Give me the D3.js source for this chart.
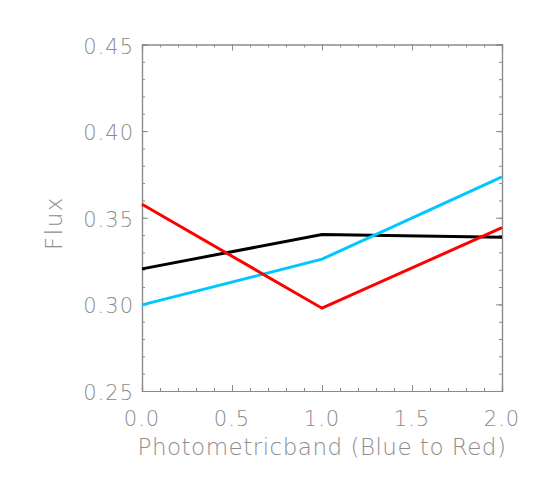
<!DOCTYPE html>
<html><head><meta charset="utf-8">
<script src="https://cdn.jsdelivr.net/npm/d3@7"></script>
<style>
body{margin:0;background:#fff;}
text{font-family:"DejaVu Sans ExtraLight","DejaVu Sans","Liberation Sans",sans-serif;font-weight:200;fill:#8c8c8c;}
</style></head>
<body><svg id="c" width="545" height="482"></svg>
<script>
const bands = [0, 1, 2];
const blackSeries = [0.3205, 0.3403, 0.3388];
const cyanSeries = [0.2997, 0.3261, 0.3736];
const redSeries = [0.3578, 0.2978, 0.3443];
const xTicks = [0.0, 0.5, 1.0, 1.5, 2.0];
const yTicks = [0.25, 0.30, 0.35, 0.40, 0.45];
const xLabel = "Photometricband (Blue to Red)";
const yLabel = "Flux";

const svg = d3.select("#c");
const L = 142, R = 502, T = 44.5, B = 391;
const x = d3.scaleLinear().domain([0, 2]).range([L, R]);
const y = d3.scaleLinear().domain([0.25, 0.45]).range([B, T]);
const axisCol = "#8a8a8a";

function styleAxis(g){
  g.select(".domain").attr("stroke", axisCol).attr("stroke-width", 1.2);
  g.selectAll(".tick line").attr("stroke", axisCol).attr("stroke-width", 1);
}
const xMinor = d3.range(0, 2.0001, 0.1);
const yMinor = d3.range(0.25, 0.45001, 0.01);

const gb = svg.append("g").attr("transform", `translate(0,${B})`);
gb.call(d3.axisTop(x).tickValues(xMinor).tickSize(3).tickFormat("")).call(styleAxis);
gb.append("g").call(d3.axisTop(x).tickValues(xTicks).tickSize(6).tickFormat("")).call(styleAxis);
const gt = svg.append("g").attr("transform", `translate(0,${T})`);
gt.call(d3.axisBottom(x).tickValues(xMinor).tickSize(3).tickFormat("")).call(styleAxis);
gt.append("g").call(d3.axisBottom(x).tickValues(xTicks).tickSize(6).tickFormat("")).call(styleAxis);
const gl = svg.append("g").attr("transform", `translate(${L},0)`);
gl.call(d3.axisRight(y).tickValues(yMinor).tickSize(3).tickFormat("")).call(styleAxis);
gl.append("g").call(d3.axisRight(y).tickValues(yTicks).tickSize(6).tickFormat("")).call(styleAxis);
const gr = svg.append("g").attr("transform", `translate(${R},0)`);
gr.call(d3.axisLeft(y).tickValues(yMinor).tickSize(3).tickFormat("")).call(styleAxis);
gr.append("g").call(d3.axisLeft(y).tickValues(yTicks).tickSize(6).tickFormat("")).call(styleAxis);

svg.append("g").selectAll("text").data(xTicks).join("text")
  .attr("x", d => x(d)).attr("y", 426).attr("text-anchor", "middle")
  .attr("font-size", 21).attr("letter-spacing", 1).text(d => d3.format(".1f")(d));
svg.append("g").selectAll("text").data(yTicks).join("text")
  .attr("x", 134).attr("y", d => y(d) + 9).attr("text-anchor", "end")
  .attr("font-size", 21).attr("letter-spacing", 1).text(d => d3.format(".2f")(d));
svg.append("text").attr("x", 322).attr("y", 455).attr("text-anchor", "middle")
  .attr("font-size", 23).attr("letter-spacing", 0.5).text(xLabel);
svg.append("text").attr("transform", "translate(62,223) rotate(-90)").attr("text-anchor", "middle")
  .attr("font-size", 23).attr("letter-spacing", 1.5).text(yLabel);

const line = d3.line().x((d, i) => x(bands[i])).y(d => y(d));
const series = [[blackSeries, "#000000"], [cyanSeries, "#00c8ff"], [redSeries, "#ff0000"]];
svg.append("g").selectAll("path").data(series).join("path")
  .attr("d", d => line(d[0])).attr("fill", "none").attr("stroke", d => d[1])
  .attr("stroke-width", 3).attr("stroke-linejoin", "miter");
</script></body></html>
